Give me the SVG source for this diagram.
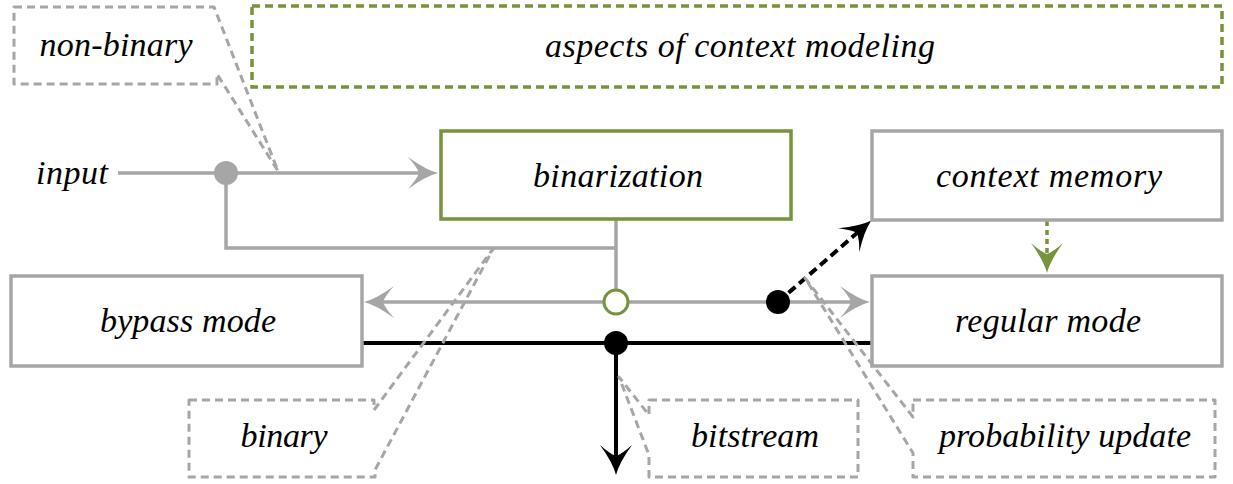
<svg xmlns="http://www.w3.org/2000/svg" width="1233" height="484" viewBox="0 0 1233 484">
  <style>
    .box { fill: #ffffff; stroke: #a6a6a6; stroke-width: 3.5; }
    .bin { fill: #ffffff; stroke: #77933c; stroke-width: 3.5; }
    .aspect { fill: none; stroke: #77933c; stroke-width: 3.5; stroke-dasharray: 8 5; }
    .callout { fill: none; stroke: #a6a6a6; stroke-width: 3; stroke-dasharray: 8 5; stroke-linejoin: round; }
    .wire { fill: none; stroke: #a6a6a6; stroke-width: 3.5; }
    .bit { fill: none; stroke: #000000; stroke-width: 4; }
    .lbl { fill: #000000; text-anchor: middle; }
  </style>
  <defs>
    <!-- concave-backed arrowhead; the path end sits at the notch (-19,0) -->
    <marker id="tipGray" markerUnits="userSpaceOnUse" viewBox="-32 -18 34 36" refX="-19" refY="0" markerWidth="34" markerHeight="36" orient="auto">
      <path d="M0,0 Q-12,-3 -30,-16 Q-21,-6 -19,0 Q-21,6 -30,16 Q-12,3 0,0 Z" fill="#a6a6a6"/>
    </marker>
    <marker id="tipBlack" markerUnits="userSpaceOnUse" viewBox="-32 -18 34 36" refX="-19" refY="0" markerWidth="34" markerHeight="36" orient="auto">
      <path d="M0,0 Q-12,-3 -30,-16 Q-21,-6 -19,0 Q-21,6 -30,16 Q-12,3 0,0 Z" fill="#000000"/>
    </marker>
    <marker id="tipGreen" markerUnits="userSpaceOnUse" viewBox="-32 -18 34 36" refX="-19" refY="0" markerWidth="34" markerHeight="36" orient="auto">
      <path d="M0,0 Q-12,-3 -30,-16 Q-21,-6 -19,0 Q-21,6 -30,16 Q-12,3 0,0 Z" fill="#77933c"/>
    </marker>
  </defs>

  <g font-family="Liberation Serif, Times New Roman, Times, Noto Serif, DejaVu Serif, serif" font-style="italic" font-size="34">

  <!-- frame around the context-modeling heading -->
  <g id="aspects">
    <rect class="aspect" x="252" y="6" width="970" height="81"/>
    <text class="lbl" x="740" y="57" textLength="390" lengthAdjust="spacing">aspects of context modeling</text>
  </g>

  <!-- connectors -->
  <g id="connectors">
    <path class="wire" d="M118,173 H419" marker-end="url(#tipGray)"/>
    <path class="wire" d="M226,173 V248 H616"/>
    <path class="wire" d="M616,220 V302"/>
    <path class="wire" d="M616,302 H383" marker-end="url(#tipGray)"/>
    <path class="wire" d="M616,302 H851" marker-end="url(#tipGray)"/>
    <path class="bit" d="M362,343 H872"/>
    <path class="bit" d="M616,343 V456" marker-end="url(#tipBlack)"/>
    <path class="bit" d="M778,302 L857,233" stroke-dasharray="9 5" marker-end="url(#tipBlack)"/>
    <path d="M1047,221 V254" fill="none" stroke="#77933c" stroke-width="3.5" stroke-dasharray="5 4" marker-end="url(#tipGreen)"/>
    <circle cx="226" cy="173" r="12" fill="#a6a6a6"/>
    <circle cx="616" cy="302" r="12" fill="#ffffff" stroke="#77933c" stroke-width="3"/>
    <circle cx="778" cy="302" r="12" fill="#000000"/>
    <circle cx="616" cy="343" r="12" fill="#000000"/>
  </g>

  <g id="input">
    <text class="lbl" x="72" y="184" textLength="72" lengthAdjust="spacing">input</text>
  </g>

  <g id="binarization">
    <rect class="bin" x="441" y="131" width="350" height="88"/>
    <text class="lbl" x="618" y="187" textLength="170" lengthAdjust="spacing">binarization</text>
  </g>

  <g id="context-memory">
    <rect class="box" x="872" y="131" width="350" height="89"/>
    <text class="lbl" x="1049" y="187" textLength="226" lengthAdjust="spacing">context memory</text>
  </g>

  <g id="bypass-mode">
    <rect class="box" x="11" y="276" width="351" height="90"/>
    <text class="lbl" x="188" y="332" textLength="176" lengthAdjust="spacing">bypass mode</text>
  </g>

  <g id="regular-mode">
    <rect class="box" x="872" y="276" width="350" height="90"/>
    <text class="lbl" x="1048" y="332" textLength="186" lengthAdjust="spacing">regular mode</text>
  </g>

  <!-- annotation callouts -->
  <g id="non-binary">
    <path class="callout" d="M14,7 H214 L278,171 L217,74 V84 H14 Z"/>
    <text class="lbl" x="116" y="56" textLength="153" lengthAdjust="spacing">non-binary</text>
  </g>

  <g id="binary">
    <path class="callout" d="M189,400 H374 V410 L493,249 L375,470 V477 H189 Z"/>
    <text class="lbl" x="284" y="447" textLength="87" lengthAdjust="spacing">binary</text>
  </g>

  <g id="bitstream">
    <path class="callout" d="M649,400 H858 V477 H649 V455 L619,377 L649,415 Z"/>
    <text class="lbl" x="755" y="447" textLength="128" lengthAdjust="spacing">bitstream</text>
  </g>

  <g id="probability-update">
    <path class="callout" d="M913,400 H1215 V477 H913 V453 L805,278 L913,417 Z"/>
    <text class="lbl" x="1065" y="447" textLength="252" lengthAdjust="spacing">probability update</text>
  </g>

  </g>
</svg>
